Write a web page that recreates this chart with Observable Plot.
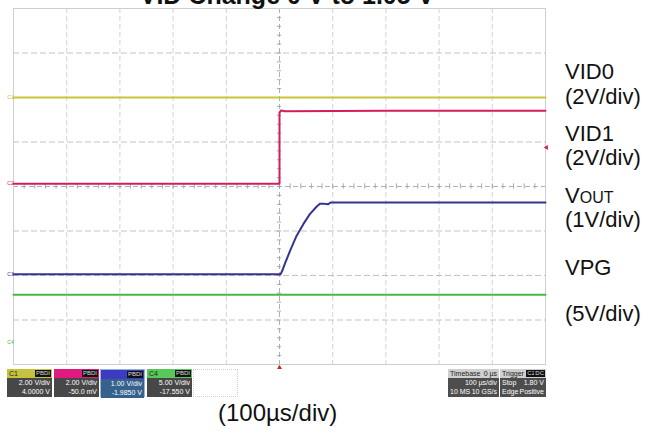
<!DOCTYPE html>
<html><head><meta charset="utf-8">
<script src="https://cdn.jsdelivr.net/npm/d3@7"></script>
<script src="https://cdn.jsdelivr.net/npm/@observablehq/plot@0.6"></script>
<style>
html,body{margin:0;padding:0;background:#fff;}
#wrap{position:relative;width:663px;height:434px;overflow:hidden;font-family:"Liberation Sans",Arial,sans-serif;}
#chart{position:absolute;left:0;top:0;}
.lab{position:absolute;font-size:22px;line-height:1;color:#111;white-space:nowrap;}
.title{position:absolute;font-size:25px;font-weight:bold;line-height:1;white-space:nowrap;color:#111;}
.box{position:absolute;font-family:"Liberation Sans Narrow","Arial Narrow","Liberation Sans",sans-serif;font-size:7px;line-height:9px;color:#fff;box-sizing:border-box;}
.hdr{height:9px;position:relative;padding-left:2px;color:#222;}
.badge{position:absolute;right:1px;top:1px;height:7px;line-height:7px;background:#111;color:#ddd;padding:0 1px;font-size:6px;}
.body{background:#474747;text-align:right;padding-right:2px;height:19px;}
</style></head>
<body>
<div id="wrap">
  <div id="chart"></div>
</div>
<script>
// ---- data (time in µs, vertical in screen divisions) ----
const xTicks = [-500,-400,-300,-200,-100,0,100,200,300,400,500];
const yTicks = [-4,-3,-2,-1,0,1,2,3,4];
const minorX = d3.range(-500, 501, 20);
const minorY = d3.range(-4, 4.01, 0.2);

const vid0T = [-500, -300, -100, 0, 100, 300, 500];
const vid0V = [2.0, 2.0, 2.0, 2.0, 2.0, 2.0, 2.0];

const vid1T = [-500, -250, 0, 0, 3, 10, 200, 500];
const vid1V = [0.06, 0.06, 0.06, 1.66, 1.71, 1.69, 1.70, 1.70];

const voutT = [-500, 2, 5, 10, 20, 32, 45, 57, 70, 76, 82, 91, 96, 113, 300, 500];
const voutV = [-1.97, -1.97, -1.90, -1.74, -1.44, -1.11, -0.84, -0.62, -0.45, -0.39, -0.385, -0.40, -0.36, -0.36, -0.36, -0.36];

const vpgT = [-500, 0, 500];
const vpgV = [-2.435, -2.435, -2.435];

const chanNames = ["C1", "C2", "C3", "C4"];
const chanColors = ["#c9c43a", "#d41c62", "#34348f", "#46b946"];
const chanHdr = ["#c4c23e", "#e2197f", "#3b3bc4", "#58c858"];
const chanScale = ["2.00 V/div", "2.00 V/div", "1.00 V/div", "5.00 V/div"];
const chanOffset = ["4.0000 V", "-50.0 mV", "-1.9850 V", "-17.550 V"];
const chanMarkerY = [2.0, 0.06, -1.97, -3.5];

const rightLabels = ["VID0", "(2V/div)", "VID1", "(2V/div)", "VOUT", "(1V/div)", "VPG", "(5V/div)"];
const rightBaselines = [80, 105, 142, 166, 204, 228, 276, 322];

const title = "VID Change 0 V to 1.05 V";
const xLabel = "(100µs/div)";

const tbHeader = ["Timebase", "0 µs"];
const tbLine1 = "100 µs/div";
const tbLine2 = ["10 MS", "10 GS/s"];
const trHeader = ["Trigger", "C2", "DC"];
const trLine1 = ["Stop", "1.80 V"];
const trLine2 = ["Edge", "Positive"];
const trigLevel = 0.876;

// ---- build table ----
const mk = (T, V, name) => T.map((t, i) => ({t, v: V[i], name}));
const traces = [
  mk(vid0T, vid0V, "C1"), mk(vid1T, vid1V, "C2"), mk(voutT, voutV, "C3"), mk(vpgT, vpgV, "C4")
];

const chart = Plot.plot({
  width: 663, height: 434,
  marginLeft: 13, marginRight: 118, marginTop: 8, marginBottom: 70,
  x: {domain: [-500, 500], axis: null},
  y: {domain: [-4, 4], axis: null},
  style: {fontFamily: "Liberation Sans, Arial, sans-serif", background: "transparent"},
  marks: [
    Plot.ruleX(xTicks.filter(d => d !== 0 && Math.abs(d) !== 500), {stroke: "#c8c8c8", strokeWidth: 0.8, strokeDasharray: "5,3"}),
    Plot.ruleY(yTicks.filter(d => d !== 0 && Math.abs(d) !== 4), {stroke: "#b4b4b4", strokeWidth: 0.8, strokeDasharray: "6,3"}),
    Plot.ruleX([0], {stroke: "#a8a8a8", strokeWidth: 0.9, strokeDasharray: "5,3"}),
    Plot.ruleY([0], {stroke: "#a8a8a8", strokeWidth: 0.9, strokeDasharray: "5,3"}),
    Plot.ruleX(minorX, {x: d => d, y1: -0.06, y2: 0.06, stroke: "#999", strokeWidth: 0.8}),
    Plot.ruleY(minorY, {y: d => d, x1: -4, x2: 4, stroke: "#999", strokeWidth: 0.8}),
    Plot.frame({stroke: "#cfcfcf", strokeWidth: 1}),
    ...traces.map((tr, i) => Plot.line(tr, {x: "t", y: "v", stroke: chanColors[i], strokeWidth: 2})),
    Plot.text(chanNames, {x: -500, y: (d, i) => chanMarkerY[i], text: d => d, fill: (d, i) => chanColors[i], dx: -3, fontSize: 5, textAnchor: "middle"}),
    Plot.dot([0], {x: d => d, y: -4, dy: 3, symbol: "triangle", r: 1.8, fill: "#d42020", rotate: 0}),
    Plot.dot([trigLevel], {x: 500, y: d => d, dx: 1, symbol: "triangle", r: 1.8, fill: "#d41c62", rotate: -90})
  ]
});
document.getElementById("chart").appendChild(chart);

const wrap = document.getElementById("wrap");
function add(html, cls, style) {
  const d = document.createElement("div");
  d.className = cls; d.innerHTML = html; Object.assign(d.style, style); wrap.appendChild(d); return d;
}
// title (mostly cut off at the top as in the reference)
add(title, "title", {left: "0px", width: "574px", textAlign: "center", top: "-17px"});
// right labels
rightLabels.forEach((t, i) => {
  const html = t === "VOUT" ? 'V<span style="font-size:16px">OUT</span>' : t;
  add(html, "lab", {left: "565px", top: (rightBaselines[i] - 18.6) + "px"});
});
// bottom label
add(xLabel, "lab", {left: "218px", top: (421 - 20.3) + "px", fontSize: "24px"});

// channel info boxes
const boxX = [7, 54, 100, 147];
chanNames.forEach((n, i) => {
  const b = add("", "box", {left: boxX[i] + "px", top: "369px", width: "45px", height: "28px",
    border: i === 2 ? "1px solid #8fb4d8" : "none"});
  b.innerHTML = `<div class="hdr" style="background:${chanHdr[i]}">${i === 0 || i === 3 ? n : ""}<span class="badge">PBDI</span></div>` +
    `<div class="body" style="background:${i === 2 ? '#35618c' : '#474747'}">${chanScale[i]}<br>${chanOffset[i]}</div>`;
});
add("", "box", {left: "193px", top: "369px", width: "45px", height: "28px", border: "1px dotted #cfcfcf"});

// timebase box
const tb = add("", "box", {left: "448px", top: "369px", width: "51px", height: "28px"});
tb.innerHTML = `<div class="hdr" style="background:#cfcfcf;padding-right:2px">${tbHeader[0]}<span style="position:absolute;right:2px">${tbHeader[1]}</span></div>` +
  `<div class="body" style="background:#4d4d4d;text-align:left;padding-left:2px;position:relative">` +
  `<div style="text-align:right">${tbLine1}</div><span>${tbLine2[0]}</span><span style="position:absolute;right:2px">${tbLine2[1]}</span></div>`;
// trigger box
const trb = add("", "box", {left: "500px", top: "369px", width: "46px", height: "28px"});
trb.innerHTML = `<div class="hdr" style="background:#cfcfcf">${trHeader[0]}<span class="badge" style="right:10px">${trHeader[1]}</span><span class="badge">${trHeader[2]}</span></div>` +
  `<div class="body" style="background:#4d4d4d;text-align:left;padding-left:2px;position:relative">` +
  `<span>${trLine1[0]}</span><span style="position:absolute;right:2px">${trLine1[1]}</span><br>` +
  `<span>${trLine2[0]}</span><span style="position:absolute;right:2px;top:9px">${trLine2[1]}</span></div>`;
</script>
</body></html>
